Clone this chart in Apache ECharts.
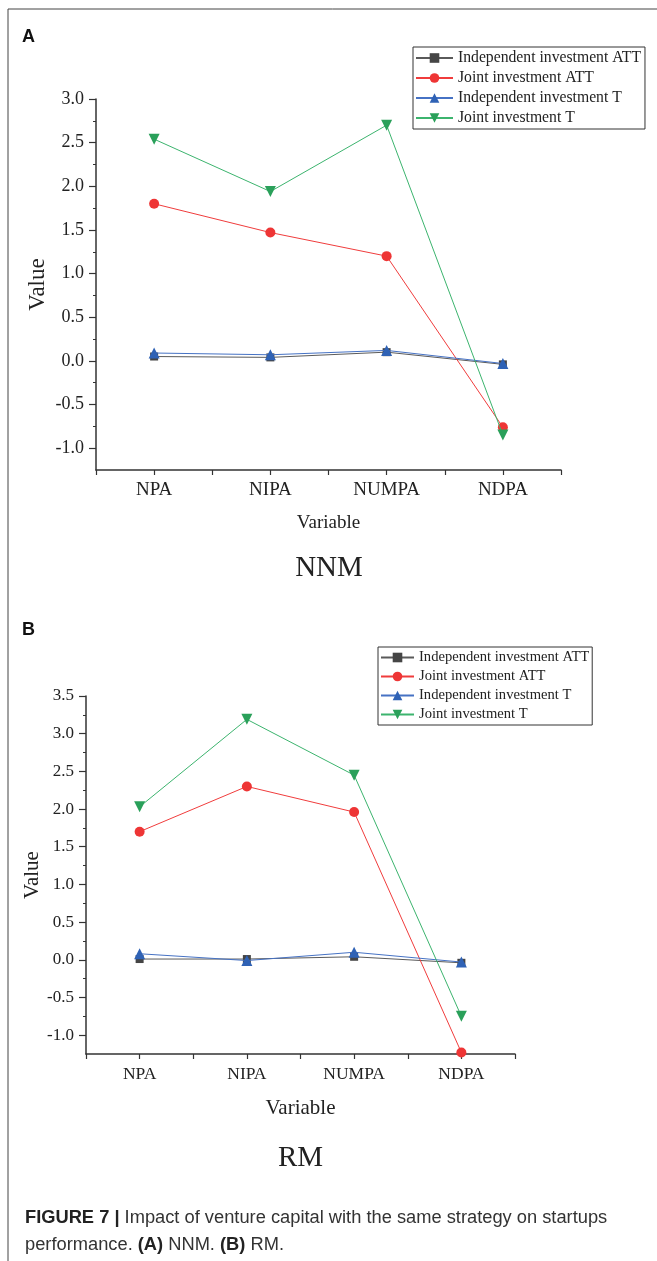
<!DOCTYPE html>
<html>
<head>
<meta charset="utf-8">
<script src="https://cdn.jsdelivr.net/npm/echarts@6/dist/echarts.min.js"></script>
<style>
html,body{margin:0;padding:0;background:#fff;}
#c{width:657px;height:1261px;}
</style>
</head>
<body>
<div id="c"></div>
<script>
const categories = ['NPA', 'NIPA', 'NUMPA', 'NDPA'];
const seriesNames = ['Independent investment ATT', 'Joint investment ATT', 'Independent investment T', 'Joint investment T'];

// Panel A: NNM
const nnmIndepATT = [0.05, 0.04, 0.10, -0.04];
const nnmJointATT = [1.80, 1.47, 1.20, -0.76];
const nnmIndepT = [0.09, 0.07, 0.12, -0.03];
const nnmJointT = [2.54, 1.94, 2.70, -0.85];

// Panel B: RM
const rmIndepATT = [0.01, 0.01, 0.04, -0.04];
const rmJointATT = [1.70, 2.30, 1.96, -1.23];
const rmIndepT = [0.08, -0.01, 0.10, -0.03];
const rmJointT = [2.03, 3.19, 2.45, -0.75];

const panelTitles = ['NNM', 'RM'];
const captionLine1 = 'Impact of venture capital with the same strategy on startups';
const captionLine2 = 'performance.';

const SERIF = '"Liberation Serif", "Times New Roman", serif';
const SANS = '"Liberation Sans", Arial, sans-serif';

const styles = [
  { symbol: 'rect', size: 8, rotate: 0, line: '#5a5a5a', fill: '#454545' },
  { symbol: 'circle', size: 10, rotate: 0, line: '#f03c3c', fill: '#ee3535' },
  { symbol: 'triangle', size: 11, rotate: 0, line: '#4672c4', fill: '#2f62b5' },
  { symbol: 'triangle', size: 11, rotate: 180, line: '#3cb46e', fill: '#2aa05a' }
];

function mkSeries(values, idx, xIdx, yIdx) {
  const s = styles[idx];
  return {
    type: 'line', name: seriesNames[idx], data: values,
    xAxisIndex: xIdx, yAxisIndex: yIdx,
    symbol: s.symbol, symbolSize: s.size, symbolRotate: s.rotate,
    lineStyle: { color: s.line, width: 1 },
    itemStyle: { color: s.fill },
    showSymbol: true, animation: false, z: 2 + idx
  };
}

const axisLine = { show: true, onZero: false, lineStyle: { color: '#333', width: 1.5 } };

// geometry
const gA = { left: 96, top: 99, width: 465, height: 371, min: -1.25, max: 3.0 };
const gB = { left: 86, top: 696, width: 429, height: 358, min: -1.25, max: 3.5 };
const labA = { min: -1.0, max: 3.0 };
const labB = { min: -1.0, max: 3.5 };

function labelGrid(g, lab) {
  const h = g.height * (lab.max - lab.min) / (g.max - g.min);
  return { left: g.left, top: g.top, width: g.width, height: h };
}

function xAxesFor(gridIndex, fs, nameFs, nameGap) {
  return [
    {
      type: 'category', gridIndex, position: 'bottom', data: categories, boundaryGap: true,
      axisLine, axisTick: { show: true, alignWithLabel: false, length: 5, lineStyle: { color: '#333', width: 1.2 } },
      axisLabel: { fontFamily: SERIF, fontSize: fs, color: '#222', margin: 11 },
      splitLine: { show: false },
      name: 'Variable', nameLocation: 'middle', nameGap,
      nameTextStyle: { fontFamily: SERIF, fontSize: nameFs, color: '#222' }
    },
    {
      type: 'category', gridIndex, position: 'bottom', data: categories, boundaryGap: true,
      axisLine: { show: false, onZero: false },
      axisTick: { show: true, alignWithLabel: true, length: 5, lineStyle: { color: '#333', width: 1.2 } },
      axisLabel: { show: false }, splitLine: { show: false }
    }
  ];
}

const option = {
  animation: false,
  backgroundColor: '#fff',
  grid: [
    { left: gA.left, top: gA.top, width: gA.width, height: gA.height },
    { left: gB.left, top: gB.top, width: gB.width, height: gB.height },
    labelGrid(gA, labA),
    labelGrid(gB, labB)
  ],
  xAxis: [].concat(
    xAxesFor(0, 19, 19, 44),            // indices 0,1
    xAxesFor(1, 17.5, 21, 44),          // indices 2,3
    [{ type: 'category', gridIndex: 2, data: categories, show: false },
     { type: 'category', gridIndex: 3, data: categories, show: false }]
  ),
  yAxis: [
    { type: 'value', gridIndex: 0, min: gA.min, max: gA.max, axisLine, axisTick: { show: false }, axisLabel: { show: false }, splitLine: { show: false },
      name: 'Value', nameLocation: 'middle', nameGap: 47, nameTextStyle: { fontFamily: SERIF, fontSize: 23, color: '#222' } },
    { type: 'value', gridIndex: 1, min: gB.min, max: gB.max, axisLine, axisTick: { show: false }, axisLabel: { show: false }, splitLine: { show: false },
      name: 'Value', nameLocation: 'middle', nameGap: 43, nameTextStyle: { fontFamily: SERIF, fontSize: 21, color: '#222' } },
    { type: 'value', gridIndex: 2, min: labA.min, max: labA.max, interval: 0.5, axisLine: { show: false, onZero: false },
      axisTick: { show: true, length: 7, lineStyle: { color: '#333', width: 1.2 } },
      minorTick: { show: true, splitNumber: 2, length: 3, lineStyle: { color: '#333', width: 1 } },
      axisLabel: { fontFamily: SERIF, fontSize: 18, color: '#222', margin: 12, formatter: v => v.toFixed(1) },
      splitLine: { show: false }, minorSplitLine: { show: false } },
    { type: 'value', gridIndex: 3, min: labB.min, max: labB.max, interval: 0.5, axisLine: { show: false, onZero: false },
      axisTick: { show: true, length: 7, lineStyle: { color: '#333', width: 1.2 } },
      minorTick: { show: true, splitNumber: 2, length: 3, lineStyle: { color: '#333', width: 1 } },
      axisLabel: { fontFamily: SERIF, fontSize: 17, color: '#222', margin: 12, formatter: v => v.toFixed(1) },
      splitLine: { show: false }, minorSplitLine: { show: false } }
  ],
  legend: [
    { orient: 'vertical', left: 413, top: 47, data: seriesNames, itemWidth: 37, itemHeight: 12, itemGap: 0,
      padding: [1, 4, 1, 2], borderColor: '#333', borderWidth: 1, selectedMode: false,
      textStyle: { fontFamily: SERIF, fontSize: 15.7, color: '#222', lineHeight: 20 } },
    { orient: 'vertical', left: 378, top: 647, data: seriesNames, itemWidth: 33, itemHeight: 12, itemGap: 0,
      padding: [1, 3, 1, 2], borderColor: '#333', borderWidth: 1, selectedMode: false,
      textStyle: { fontFamily: SERIF, fontSize: 14.6, color: '#222', lineHeight: 19 } }
  ],
  series: [
    mkSeries(nnmIndepATT, 0, 0, 0), mkSeries(nnmJointATT, 1, 0, 0), mkSeries(nnmIndepT, 2, 0, 0), mkSeries(nnmJointT, 3, 0, 0),
    mkSeries(rmIndepATT, 0, 2, 1), mkSeries(rmJointATT, 1, 2, 1), mkSeries(rmIndepT, 2, 2, 1), mkSeries(rmJointT, 3, 2, 1)
  ],
  graphic: [
    { type: 'line', shape: { x1: 8, y1: 9, x2: 657, y2: 9 }, style: { stroke: '#444', lineWidth: 1 }, silent: true },
    { type: 'line', shape: { x1: 8, y1: 9, x2: 8, y2: 1261 }, style: { stroke: '#444', lineWidth: 1 }, silent: true },
    { type: 'text', x: 22, y: 37, style: { text: 'A', fontFamily: SANS, fontWeight: 'bold', fontSize: 18, fill: '#111', textVerticalAlign: 'middle' } },
    { type: 'text', x: 22, y: 630, style: { text: 'B', fontFamily: SANS, fontWeight: 'bold', fontSize: 18, fill: '#111', textVerticalAlign: 'middle' } },
    { type: 'text', x: 329, y: 568, style: { text: panelTitles[0], fontFamily: SERIF, fontSize: 29, fill: '#222', textAlign: 'center', textVerticalAlign: 'middle' } },
    { type: 'text', x: 300.5, y: 1158, style: { text: panelTitles[1], fontFamily: SERIF, fontSize: 29, fill: '#222', textAlign: 'center', textVerticalAlign: 'middle' } },
    { type: 'text', x: 25, y: 1218, style: { text: '{b|FIGURE 7 |} ' + captionLine1, fontFamily: SANS, fontSize: 18.3, fill: '#333', textVerticalAlign: 'middle',
        rich: { b: { fontFamily: SANS, fontWeight: 'bold', fontSize: 18.3, fill: '#222' } } } },
    { type: 'text', x: 25, y: 1245, style: { text: captionLine2 + ' {b|(A)} NNM. {b|(B)} RM.', fontFamily: SANS, fontSize: 18.3, fill: '#333', textVerticalAlign: 'middle',
        rich: { b: { fontFamily: SANS, fontWeight: 'bold', fontSize: 18.3, fill: '#222' } } } }
  ]
};

const chart = echarts.init(document.getElementById('c'), null, { renderer: 'canvas' });
chart.setOption(option);
</script>
</body>
</html>
